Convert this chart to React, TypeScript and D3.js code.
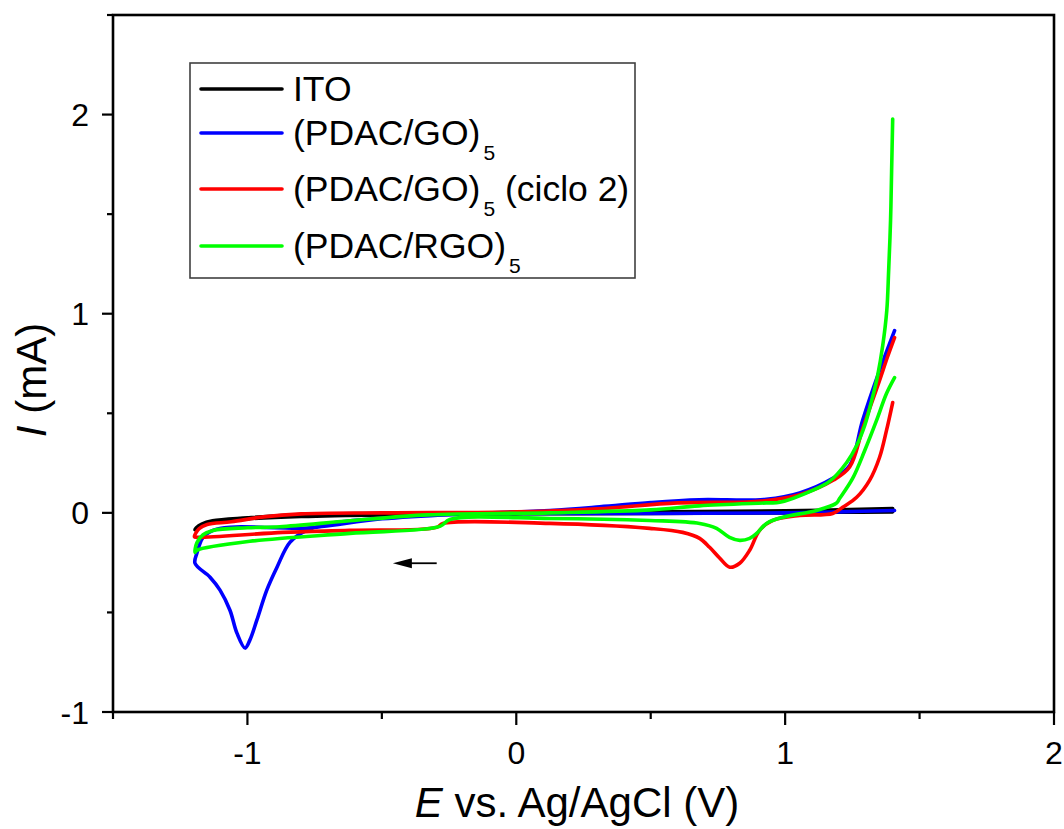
import React from "react";
import * as d3 from "d3";

// ---- data (E in V vs Ag/AgCl, I in mA) ----
const seriesNames = ["ITO", "(PDAC/GO)", "(PDAC/GO)", "(PDAC/RGO)"];
const seriesColors = ["#000000", "#0000ff", "#ff0000", "#00ff00"];

const itoCV: [number, number][] = [
  [1.40, 0.005], [1.2, 0.003], [1.0, 0.0], [0.5, -0.003], [0.0, -0.005], [-0.5, -0.01],
  [-0.8, -0.018], [-1.0, -0.03], [-1.1, -0.042], [-1.16, -0.056], [-1.195, -0.085],
  [-1.19, -0.075], [-1.17, -0.056], [-1.13, -0.04], [-1.0, -0.025], [-0.82, -0.01],
  [-0.5, -0.003], [0.0, 0.0], [0.5, 0.005], [1.0, 0.01], [1.2, 0.015], [1.40, 0.022],
];

const goCV: [number, number][] = [
  [1.407, 0.012], [1.2, 0.005], [1.0, 0.0], [0.5, -0.003], [0.125, -0.003], [-0.13, -0.004],
  [-0.5, -0.028], [-0.69, -0.053], [-0.78, -0.088], [-0.842, -0.148], [-0.89, -0.273],
  [-0.928, -0.388], [-0.965, -0.539], [-0.991, -0.639], [-1.009, -0.679], [-1.039, -0.604],
  [-1.065, -0.489], [-1.102, -0.388], [-1.139, -0.323], [-1.195, -0.253],
  [-1.188, -0.203], [-1.165, -0.123], [-1.128, -0.088], [-1.065, -0.072], [-0.9, -0.074],
  [-0.78, -0.076], [-0.5, -0.03], [-0.2, -0.005], [0.125, 0.012], [0.31, 0.03], [0.5, 0.052],
  [0.68, 0.066], [0.93, 0.068], [1.054, 0.10], [1.177, 0.173], [1.24, 0.238], [1.288, 0.464],
  [1.351, 0.714], [1.407, 0.915],
];

const goCycle2CV: [number, number][] = [
  [1.400, 0.554], [1.377, 0.414], [1.351, 0.278], [1.314, 0.163], [1.266, 0.078],
  [1.214, 0.028], [1.177, -0.003], [1.054, -0.013], [0.954, -0.038], [0.905, -0.088],
  [0.868, -0.188], [0.831, -0.253], [0.794, -0.273], [0.757, -0.228], [0.719, -0.173],
  [0.682, -0.128], [0.619, -0.098], [0.496, -0.078], [0.125, -0.053], [-0.273, -0.053],
  [-0.296, -0.073], [-0.619, -0.088], [-0.868, -0.098], [-1.188, -0.123], [-1.197, -0.12],
  [-1.18, -0.08], [-1.15, -0.058], [-1.06, -0.045], [-0.94, -0.02], [-0.8, -0.005],
  [-0.5, 0.0], [0.0, 0.005], [0.3, 0.02], [0.6, 0.05], [0.9, 0.058], [1.05, 0.09],
  [1.18, 0.165], [1.24, 0.23], [1.29, 0.43], [1.35, 0.66], [1.38, 0.78], [1.407, 0.88],
];

const rgoCV: [number, number][] = [
  [1.407, 0.679], [1.377, 0.599], [1.340, 0.464], [1.296, 0.313], [1.251, 0.173],
  [1.203, 0.073], [1.19, 0.048], [1.117, 0.012], [0.991, -0.022], [0.931, -0.053],
  [0.894, -0.103], [0.868, -0.128], [0.831, -0.138], [0.793, -0.123], [0.745, -0.078],
  [0.682, -0.053], [0.496, -0.038], [0.125, -0.028], [-0.247, -0.033], [-0.284, -0.068],
  [-0.619, -0.103], [-0.991, -0.143], [-1.188, -0.188], [-1.195, -0.198],
  [-1.188, -0.15], [-1.165, -0.11], [-1.128, -0.088], [-1.0, -0.075], [-0.88, -0.07],
  [-0.62, -0.04], [-0.33, -0.01], [0.125, 0.0], [0.5, 0.015], [0.68, 0.035],
  [0.93, 0.05], [0.98, 0.053], [1.102, 0.113], [1.165, 0.158], [1.229, 0.253],
  [1.266, 0.338], [1.296, 0.439], [1.322, 0.564], [1.344, 0.689], [1.363, 0.840],
  [1.378, 1.015], [1.385, 1.216], [1.392, 1.466], [1.396, 1.717], [1.400, 1.977],
];

const allSeries = [itoCV, goCV, goCycle2CV, rgoCV];
const seriesSubscript = ["", "5", "5", "5"];
const seriesSuffix = ["", "", " (ciclo 2)", ""];

const xMajorTicks = [-1, 0, 1, 2];
const xMinorTicks = [-1.5, -0.5, 0.5, 1.5];
const yMajorTicks = [-1, 0, 1, 2];
const yMinorTicks = [-0.5, 0.5, 1.5, 2.5];

const arrowFrom: [number, number] = [-0.296, -0.253];
const arrowTo: [number, number] = [-0.459, -0.253];

export default function App() {
  const W = 1064, H = 829;
  const left = 113, right = 1054, top = 15, bottom = 712;
  const x = d3.scaleLinear().domain([-1.5, 2]).range([left, right]);
  const y = d3.scaleLinear().domain([-1, 2.5]).range([bottom, top]);
  const line = d3
    .line<[number, number]>()
    .x((d) => x(d[0]))
    .y((d) => y(d[1]))
    .curve(d3.curveCatmullRom.alpha(0.5));

  const font = "'Liberation Sans', Arial, sans-serif";
  const legendYs = [89, 133, 189, 246];

  const ax0 = x(arrowFrom[0]), ay = y(arrowFrom[1]);
  const ax1 = x(arrowTo[0]);

  return (
    <svg
      width={W}
      height={H}
      style={{ position: "absolute", left: 0, top: 0, background: "#fff" }}
      fontFamily={font}
    >
      <rect x={0} y={0} width={W} height={H} fill="#fff" />
      {/* curves */}
      <g fill="none" strokeWidth={3.6} strokeLinejoin="round" strokeLinecap="round">
        {allSeries.map((s, i) => (
          <path key={i} d={line(s) || ""} stroke={seriesColors[i]} />
        ))}
      </g>
      {/* arrow */}
      <line x1={ax0} y1={ay} x2={ax1 + 16} y2={ay} stroke="#000" strokeWidth={1.8} />
      <path d={`M${ax1},${ay} L${ax1 + 19},${ay - 5} L${ax1 + 19},${ay + 5} Z`} fill="#000" />

      {/* frame */}
      <rect x={left} y={top} width={right - left} height={bottom - top} fill="none" stroke="#000" strokeWidth={2.6} />

      {/* y ticks */}
      {yMajorTicks.map((t) => (
        <g key={"ym" + t}>
          <line x1={left - 11} x2={left} y1={y(t)} y2={y(t)} stroke="#000" strokeWidth={2.2} />
          <text x={left - 24} y={y(t) + 11.5} fontSize={32} textAnchor="end" fill="#000">
            {t}
          </text>
        </g>
      ))}
      {yMinorTicks.map((t) => (
        <line key={"yn" + t} x1={left - 6} x2={left} y1={y(t)} y2={y(t)} stroke="#000" strokeWidth={2.2} />
      ))}
      {/* x ticks */}
      {xMajorTicks.map((t) => (
        <g key={"xm" + t}>
          <line x1={x(t)} x2={x(t)} y1={bottom} y2={bottom + 13} stroke="#000" strokeWidth={2.2} />
          <text x={x(t)} y={764} fontSize={32} textAnchor="middle" fill="#000">
            {t}
          </text>
        </g>
      ))}
      {xMinorTicks.map((t) => (
        <line key={"xn" + t} x1={x(t)} x2={x(t)} y1={bottom} y2={bottom + 7} stroke="#000" strokeWidth={2.2} />
      ))}

      {/* axis titles */}
      <text x={577} y={817} fontSize={42} textAnchor="middle" fill="#000">
        <tspan fontStyle="italic">E</tspan>
        <tspan> vs. Ag/AgCl (V)</tspan>
      </text>
      <text transform="translate(46,380) rotate(-90)" fontSize={42} textAnchor="middle" fill="#000">
        <tspan fontStyle="italic">I</tspan>
        <tspan> (mA)</tspan>
      </text>

      {/* legend */}
      <rect x={190} y={63} width={445} height={215} fill="#fff" stroke="#404040" strokeWidth={1.6} />
      {seriesNames.map((n, i) => (
        <g key={"lg" + i}>
          <line x1={201} x2={282} y1={legendYs[i]} y2={legendYs[i]} stroke={seriesColors[i]} strokeWidth={3.6} strokeLinecap="round" />
          <text x={293} y={legendYs[i] + 12} fontSize={35.5} fill="#000">
            {n}
            {seriesSubscript[i] && (
              <tspan fontSize={21} dx={3} dy={15}>
                {seriesSubscript[i]}
              </tspan>
            )}
            {seriesSuffix[i] && <tspan dy={-15}>{seriesSuffix[i]}</tspan>}
          </text>
        </g>
      ))}
    </svg>
  );
}
